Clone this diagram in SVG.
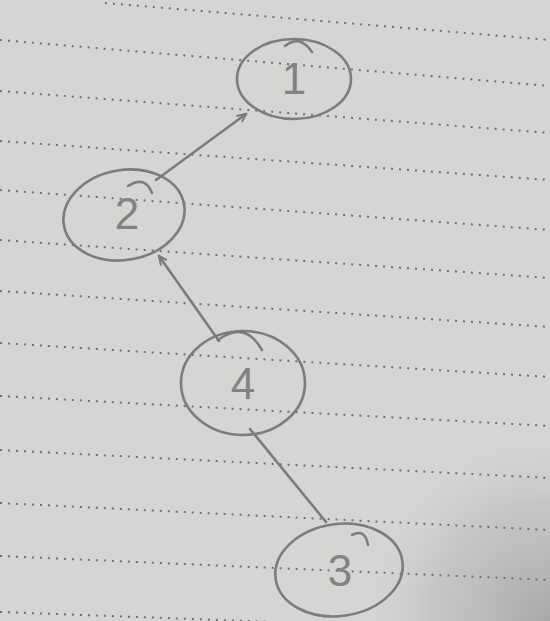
<svg xmlns="http://www.w3.org/2000/svg" width="550" height="621" viewBox="0 0 550 621">
<defs>
<radialGradient id="shadow" cx="550" cy="621" r="200" gradientUnits="userSpaceOnUse">
<stop offset="0" stop-color="#9c9d9b" stop-opacity="0.8"/>
<stop offset="0.6" stop-color="#b8b9b7" stop-opacity="0.5"/>
<stop offset="1" stop-color="#d6d7d4" stop-opacity="0"/>
</radialGradient>
<marker id="arr" markerWidth="12" markerHeight="10" refX="10" refY="5" orient="auto" markerUnits="userSpaceOnUse">
<path d="M1,1 L10,5 L2,9" fill="none" stroke="#7a7a7a" stroke-width="2"/>
</marker>
<style>
.rule{stroke:#6f6f6f;stroke-width:2;stroke-dasharray:2 6;fill:none}
.pen{fill:none;stroke:#7c7c7c;stroke-width:2.6;stroke-linecap:round}
.lbl{font-family:"Liberation Sans",Arial,sans-serif;font-size:44px;fill:#828282;text-anchor:middle;dominant-baseline:central}
</style>
</defs>
<rect width="550" height="621" fill="#d5d6d3"/>
<rect width="550" height="621" fill="url(#shadow)"/>
<g id="rules">
<line class="rule" x1="105" y1="3" x2="550" y2="40"/>
<line class="rule" x1="0" y1="40" x2="550" y2="86"/>
<line class="rule" x1="0" y1="91" x2="550" y2="133"/>
<line class="rule" x1="0" y1="141" x2="550" y2="180"/>
<line class="rule" x1="0" y1="190" x2="550" y2="230"/>
<line class="rule" x1="0" y1="240" x2="550" y2="278"/>
<line class="rule" x1="0" y1="291" x2="550" y2="327"/>
<line class="rule" x1="0" y1="343" x2="550" y2="377"/>
<line class="rule" x1="0" y1="396" x2="550" y2="426"/>
<line class="rule" x1="0" y1="450" x2="550" y2="478"/>
<line class="rule" x1="0" y1="503" x2="550" y2="530"/>
<line class="rule" x1="0" y1="556" x2="550" y2="580"/>
<line class="rule" x1="0" y1="612" x2="550" y2="632"/>
</g>
<g id="connectors">
<line class="pen" x1="156" y1="180" x2="246" y2="114" marker-end="url(#arr)"/>
<line class="pen" x1="219" y1="341" x2="159" y2="256" marker-end="url(#arr)"/>
<line class="pen" x1="326" y1="522" x2="250" y2="429"/>
</g>
<g id="node1">
<ellipse class="pen" cx="294" cy="79" rx="57" ry="40"/>
<path class="pen" d="M285,46 Q300,34 312,52"/>
<text class="lbl" x="294" y="78">1</text>
</g>
<g id="node2">
<ellipse class="pen" cx="124" cy="215" rx="61" ry="45" transform="rotate(-10 124 215)"/>
<path class="pen" d="M128,186 Q145,175 152,193"/>
<text class="lbl" x="127" y="213">2</text>
</g>
<g id="node4">
<ellipse class="pen" cx="243" cy="383" rx="62" ry="52"/>
<path class="pen" d="M218,340 Q245,320 262,350"/>
<text class="lbl" x="243" y="383">4</text>
</g>
<g id="node3">
<ellipse class="pen" cx="339" cy="570" rx="64" ry="46" transform="rotate(-8 339 570)"/>
<path class="pen" d="M352,535 Q365,528 368,545"/>
<text class="lbl" x="340" y="570">3</text>
</g>
</svg>
